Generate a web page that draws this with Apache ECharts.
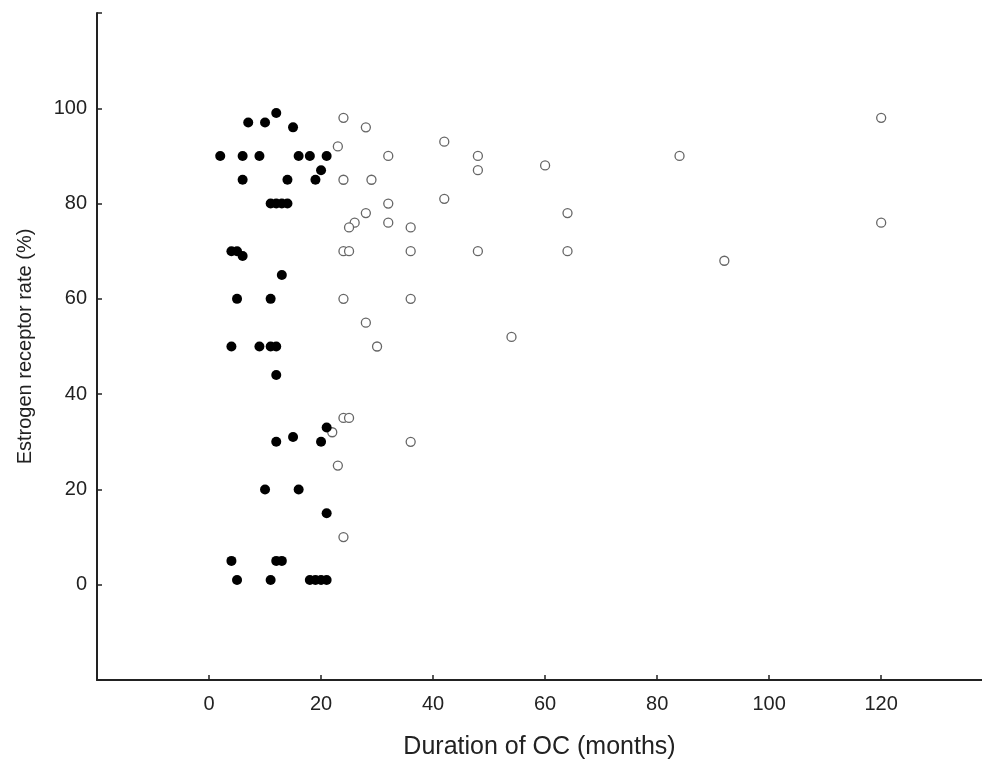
<!DOCTYPE html>
<html>
<head>
<meta charset="utf-8">
<script src="https://cdn.jsdelivr.net/npm/echarts@6/dist/echarts.min.js"></script>
<style>
  html, body { margin: 0; padding: 0; background: #fff; }
  #main { width: 982px; height: 765px; }
</style>
</head>
<body>
<div id="main"></div>
<script>
// duration of OC (months), estrogen receptor rate (%)
var shortX = [2, 6, 9, 16, 18, 21, 7, 10, 12, 15, 20, 6, 14, 19, 11, 12, 13, 14, 4, 5, 6, 13, 5, 11,
    4, 9, 11, 12, 12, 21, 12, 15, 20, 10, 16, 21, 4, 12, 13, 5, 11, 18, 19, 20, 21];
var shortY = [90, 90, 90, 90, 90, 90, 97, 97, 99, 96, 87, 85, 85, 85, 80, 80, 80, 80, 70, 70, 69, 65, 60, 60,
    50, 50, 50, 50, 44, 33, 30, 31, 30, 20, 20, 15, 5, 5, 5, 1, 1, 1, 1, 1, 1];

var longX = [24, 28, 42, 120, 23, 32, 48, 84, 60, 48, 24, 29, 42, 32, 64, 28, 26, 25, 32, 36, 120,
    24, 25, 36, 48, 64, 92, 24, 36, 28, 54, 30, 24, 25, 22, 36, 23, 24];
var longY = [98, 96, 93, 98, 92, 90, 90, 90, 88, 87, 85, 85, 81, 80, 78, 78, 76, 75, 76, 75, 76,
    70, 70, 70, 70, 70, 68, 60, 60, 55, 52, 50, 35, 35, 32, 30, 25, 10];

function pairs(xs, ys) {
    return xs.map(function (x, i) { return [x, ys[i]]; });
}

var dom = document.getElementById('main');
var myChart = echarts.init(dom);

var axisFont = { fontFamily: 'Liberation Sans', fontSize: 20, color: '#222' };

myChart.setOption({
    animation: false,
    backgroundColor: '#fff',
    grid: { left: 97, right: -3, top: 13, bottom: 84, containLabel: false },
    xAxis: {
        type: 'value',
        min: -20,
        max: 138,
        interval: 20,
        name: 'Duration of OC (months)',
        nameLocation: 'middle',
        nameGap: 55,
        nameTextStyle: { fontFamily: 'Liberation Sans', fontSize: 25, color: '#222' },
        splitLine: { show: false },
        axisLine: { onZero: false, lineStyle: { color: '#222', width: 2 } },
        axisTick: { inside: true, length: 5, lineStyle: { color: '#222', width: 1.5 } },
        axisLabel: Object.assign({
            margin: 14,
            showMaxLabel: false,
            formatter: function (v) { return v < 0 ? '' : v; }
        }, axisFont)
    },
    yAxis: {
        type: 'value',
        min: -20,
        max: 120,
        interval: 20,
        name: 'Estrogen receptor rate (%)',
        nameLocation: 'middle',
        nameGap: 62,
        nameTextStyle: { fontFamily: 'Liberation Sans', fontSize: 20, color: '#222' },
        splitLine: { show: false },
        axisLine: { onZero: false, lineStyle: { color: '#222', width: 2 } },
        axisTick: { inside: true, length: 5, lineStyle: { color: '#222', width: 1.5 } },
        axisLabel: Object.assign({
            margin: 10,
            formatter: function (v) { return (v < 0 || v > 100) ? '' : v; }
        }, axisFont)
    },
    series: [{
        name: 'long',
        type: 'scatter',
        symbol: 'circle',
        symbolSize: 9,
        itemStyle: { color: '#fff', borderColor: '#666', borderWidth: 1.3, opacity: 1 },
        data: pairs(longX, longY)
    }, {
        name: 'short',
        type: 'scatter',
        symbol: 'circle',
        symbolSize: 10,
        itemStyle: { color: '#000', opacity: 1 },
        data: pairs(shortX, shortY)
    }]
});
</script>
</body>
</html>
